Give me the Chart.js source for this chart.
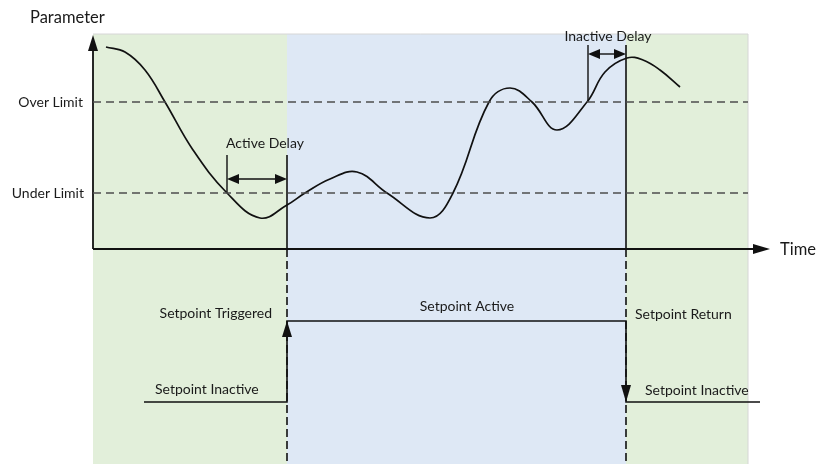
<!DOCTYPE html>
<html>
<head>
<meta charset="utf-8">
<script src="https://cdn.jsdelivr.net/npm/chart.js@4.4.1/dist/chart.umd.min.js"></script>
<style>
  body { margin: 0; background: #fff; }
  #wrap { width: 817px; height: 464px; }
</style>
</head>
<body>
<div id="wrap"><canvas id="setpointChart"></canvas></div>
<script>
// Parameter curve (time, parameter)
const curveTime  = [13, 32, 52, 72, 100, 134, 167, 194, 212, 237, 264, 294, 337, 360, 396, 417, 439, 464, 494, 512, 534, 550, 567, 587];
const curveParam = [202, 197, 179, 147, 99, 56, 31, 44, 56, 70, 77, 56, 31, 56, 147, 161, 147, 119, 147, 177, 191, 189, 179, 162];

// Limits
const limitNames  = ['Over Limit', 'Under Limit'];
const limitValues = [147, 56];

// Setpoint events (time)
const eventNames = ['Setpoint Triggered', 'Setpoint Return'];
const eventTimes = [194, 533];
const delayNames  = ['Active Delay', 'Inactive Delay'];
const delayStarts = [134, 495];
const delayBases  = [limitValues[1], limitValues[0]];

// Setpoint state levels (lower panel)
const stateNames  = ['Setpoint Inactive', 'Setpoint Active'];
const stateLevels = [-153, -72];
const stateStart = 51, stateEnd = 667;

// Axis extents
const axisTimeEnd = 677, axisParamTop = 214, panelEnd = 655, panelTop = 215;

const INK = '#111';
const DASH = '#4d4d4d';
const FONT = 'Lato, "Open Sans", sans-serif';

function seg(x1, y1, x2, y2) { return [{ x: x1, y: y1 }, { x: x2, y: y2 }]; }
function lineDs(data, color, width, dash) {
    return { data: data, showLine: true, borderColor: color, borderWidth: width,
             borderDash: dash || [], pointRadius: 0, fill: false, tension: 0 };
}

const datasets = [];
// limit lines
limitValues.forEach(v => datasets.push(lineDs(seg(0, v, panelEnd, v), DASH, 1.6, [8, 5])));
// event lines: solid above the time axis, dashed below
const solidTops = [94, 204];
eventTimes.forEach((t, i) => {
    datasets.push(lineDs(seg(t, solidTops[i], t, 0), INK, 1.6));
    datasets.push(lineDs(seg(t, 0, t, -215), INK, 1.6, [8, 4]));
});
// delay ticks and arrows
const delayLevels = [70, 195];
delayStarts.forEach((t, i) => {
    datasets.push(lineDs(seg(t, delayBases[i], t, solidTops[i]), INK, 1.4));
    datasets.push(lineDs(seg(t + 8, delayLevels[i], eventTimes[i] - 8, delayLevels[i]), INK, 1.4));
});
// axes
datasets.push(lineDs(seg(0, 0, 0, axisParamTop - 10), INK, 1.8));
datasets.push(lineDs(seg(0, 0, axisTimeEnd - 10, 0), INK, 1.8));
// parameter curve
datasets.push({
    data: curveTime.map((t, i) => ({ x: t, y: curveParam[i] })),
    showLine: true, borderColor: INK, borderWidth: 1.7, pointRadius: 0,
    tension: 0.4, fill: false
});
// setpoint state
datasets.push(lineDs([
    { x: stateStart, y: stateLevels[0] }, { x: eventTimes[0], y: stateLevels[0] },
    { x: eventTimes[0], y: stateLevels[1] }, { x: eventTimes[1], y: stateLevels[1] },
    { x: eventTimes[1], y: stateLevels[0] }, { x: stateEnd, y: stateLevels[0] }
], INK, 1.6));

// arrowheads: tip position and direction
const arrows = [
    { x: 0, y: axisParamTop, dir: 'up', len: 16 },
    { x: axisTimeEnd, y: 0, dir: 'right', len: 17 },
    { x: delayStarts[0], y: delayLevels[0], dir: 'left', len: 12 },
    { x: eventTimes[0], y: delayLevels[0], dir: 'right', len: 12 },
    { x: delayStarts[1], y: delayLevels[1], dir: 'left', len: 12 },
    { x: eventTimes[1], y: delayLevels[1], dir: 'right', len: 12 },
    { x: eventTimes[0], y: stateLevels[1], dir: 'up', len: 16 },
    { x: eventTimes[1], y: stateLevels[0], dir: 'down', len: 17 }
];

// text labels anchored in data units
const labels = [
    { text: 'Parameter', x: -63, y: 231, align: 'left', size: 16.5 },
    { text: limitNames[0], x: -10, y: limitValues[0], align: 'right' },
    { text: limitNames[1], x: -9, y: limitValues[1], align: 'right' },
    { text: 'Time', x: 687, y: -1, align: 'left', size: 16.5 },
    { text: delayNames[0], x: 172, y: 106, align: 'center' },
    { text: delayNames[1], x: 515, y: 213, align: 'center' },
    { text: eventNames[0], x: 179, y: -64, align: 'right' },
    { text: stateNames[1], x: 374, y: -57, align: 'center' },
    { text: eventNames[1], x: 542, y: -65, align: 'left' },
    { text: stateNames[0], x: 62, y: -140, align: 'left' },
    { text: stateNames[0], x: 552, y: -141, align: 'left' }
];

const bands = [
    { from: 0, to: eventTimes[0], color: '#e2efda' },
    { from: eventTimes[0], to: eventTimes[1], color: '#dee8f5' },
    { from: eventTimes[1], to: panelEnd, color: '#e2efda' }
];

const diagramPlugin = {
    id: 'diagram',
    beforeDatasetsDraw(chart) {
        const { ctx, scales: { x, y } } = chart;
        ctx.save();
        bands.forEach(b => {
            const x1 = x.getPixelForValue(b.from), x2 = x.getPixelForValue(b.to);
            const y1 = y.getPixelForValue(panelTop), y2 = y.getPixelForValue(y.min);
            ctx.fillStyle = b.color;
            ctx.fillRect(x1, y1, x2 - x1, y2 - y1);
        });
        ctx.strokeStyle = '#d6d6d6';
        ctx.lineWidth = 1;
        ctx.beginPath();
        ctx.moveTo(x.getPixelForValue(0), y.getPixelForValue(panelTop));
        ctx.lineTo(x.getPixelForValue(panelEnd), y.getPixelForValue(panelTop));
        ctx.lineTo(x.getPixelForValue(panelEnd), y.getPixelForValue(y.min));
        ctx.stroke();
        ctx.restore();
    },
    afterDatasetsDraw(chart) {
        const { ctx, scales: { x, y } } = chart;
        ctx.save();
        ctx.fillStyle = INK;
        arrows.forEach(a => {
            const px = x.getPixelForValue(a.x), py = y.getPixelForValue(a.y);
            const hw = 5, l = a.len;
            ctx.beginPath();
            ctx.moveTo(px, py);
            if (a.dir === 'up')    { ctx.lineTo(px - hw, py + l); ctx.lineTo(px + hw, py + l); }
            if (a.dir === 'down')  { ctx.lineTo(px - hw, py - l); ctx.lineTo(px + hw, py - l); }
            if (a.dir === 'right') { ctx.lineTo(px - l, py - hw); ctx.lineTo(px - l, py + hw); }
            if (a.dir === 'left')  { ctx.lineTo(px + l, py - hw); ctx.lineTo(px + l, py + hw); }
            ctx.closePath();
            ctx.fill();
        });
        ctx.fillStyle = '#1a1a1a';
        ctx.textBaseline = 'middle';
        labels.forEach(lb => {
            ctx.font = (lb.size || 14) + 'px ' + FONT;
            ctx.textAlign = lb.align;
            ctx.fillText(lb.text, x.getPixelForValue(lb.x), y.getPixelForValue(lb.y));
        });
        ctx.restore();
    }
};

new Chart(document.getElementById('setpointChart'), {
    type: 'scatter',
    data: { datasets: datasets },
    options: {
        responsive: true,
        maintainAspectRatio: false,
        animation: false,
        layout: { padding: 0 },
        plugins: { legend: { display: false }, tooltip: { enabled: false } },
        scales: {
            x: { type: 'linear', min: -93, max: 724, display: false },
            y: { type: 'linear', min: -215, max: 249, display: false }
        }
    },
    plugins: [diagramPlugin]
});
</script>
</body>
</html>
